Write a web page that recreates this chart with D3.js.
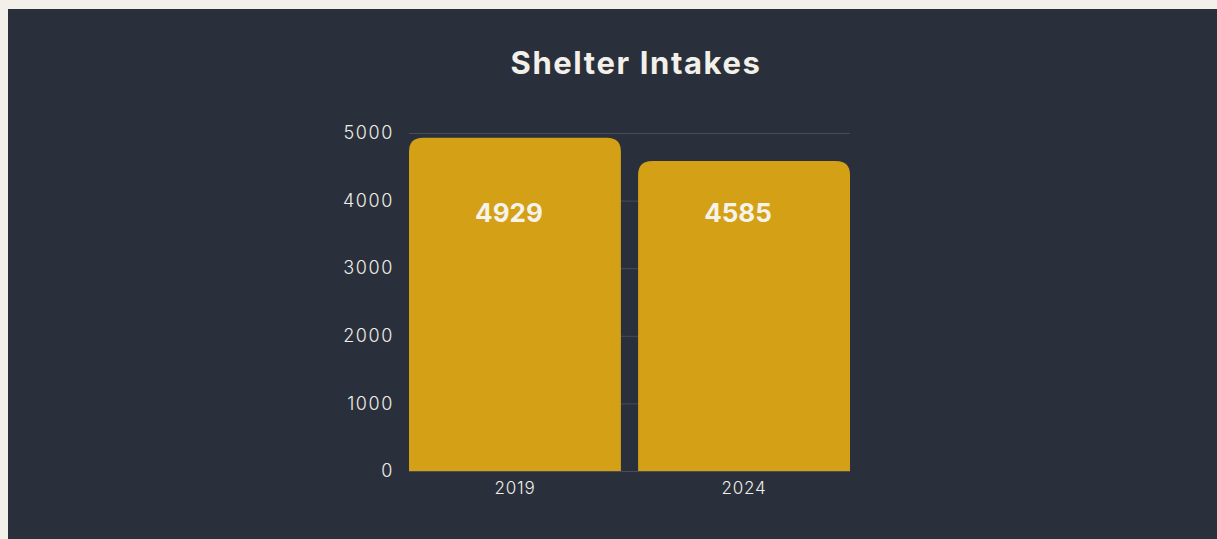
<!DOCTYPE html>
<html><head><meta charset="utf-8">
<script src="https://cdn.jsdelivr.net/npm/d3@7"></script>
<style>
html,body{margin:0;padding:0;background:#f3efe9;}
svg{display:block;}
</style></head>
<body>
<svg id="chart" width="1217" height="539"></svg>
<script>
const categories = ["2019", "2024"];
const values = [4929, 4585];
const yTicks = [0, 1000, 2000, 3000, 4000, 5000];
const title = "Shelter Intakes";

const W = 1217, H = 539;
const svg = d3.select("#chart");
svg.append("rect").attr("x", 8).attr("y", 9).attr("width", W - 8).attr("height", H - 9).attr("fill", "#2a303b");

const margin = {left: 409, right: W - 850, top: 133, bottom: H - 471};
const x = d3.scaleBand().domain(categories).range([margin.left, W - margin.right]).paddingInner(0.075).paddingOuter(0);
const y = d3.scaleLinear().domain([0, 5000]).range([H - margin.bottom, margin.top]);

const font = "Inter, 'Open Sans', sans-serif";

svg.append("text").attr("x", 636).attr("y", 74).attr("text-anchor", "middle")
  .attr("font-family", font).attr("font-weight", 700).attr("font-size", 31)
  .attr("letter-spacing", 1.6)
  .attr("fill", "#f3efe9").text(title);

// gridlines
svg.append("g").selectAll("line").data(yTicks).join("line")
  .attr("x1", margin.left).attr("x2", W - margin.right)
  .attr("y1", d => y(d) + 0.5).attr("y2", d => y(d) + 0.5)
  .attr("stroke", "#474c56").attr("stroke-width", 1);

// y axis
const yAxis = svg.append("g").attr("transform", `translate(${margin.left},0)`)
  .call(d3.axisLeft(y).tickValues(yTicks).tickSize(0).tickPadding(15).tickFormat(d3.format("d")));
yAxis.select(".domain").remove();
yAxis.selectAll("text").attr("font-family", font).attr("font-weight", 300).attr("font-size", 18)
  .attr("letter-spacing", 1.6).attr("fill", "#f0ede8");

// x axis
const xAxis = svg.append("g").attr("transform", `translate(0,${H - margin.bottom})`)
  .call(d3.axisBottom(x).tickSize(0).tickPadding(11));
xAxis.select(".domain").remove();
xAxis.selectAll("text").attr("font-family", font).attr("font-weight", 300).attr("font-size", 17)
  .attr("letter-spacing", 0.8).attr("fill", "#f0ede8");

// bars with rounded top corners
const r = 14;
function barPath(d, i) {
  const x0 = x(categories[i]), w = x.bandwidth(), yt = y(d), yb = y(0);
  return `M${x0},${yb}V${yt + r}Q${x0},${yt} ${x0 + r},${yt}H${x0 + w - r}Q${x0 + w},${yt} ${x0 + w},${yt + r}V${yb}Z`;
}
svg.append("g").selectAll("path").data(values).join("path")
  .attr("d", barPath).attr("fill", "#d4a015");

svg.append("g").selectAll("text").data(values).join("text")
  .attr("x", (d, i) => x(categories[i]) + x.bandwidth() / 2 - 6)
  .attr("y", y(5000) + 89)
  .attr("text-anchor", "middle")
  .attr("font-family", font).attr("font-weight", 700).attr("font-size", 26)
  .attr("fill", "#f6f2ec").text(d => d);
</script>
</body></html>
